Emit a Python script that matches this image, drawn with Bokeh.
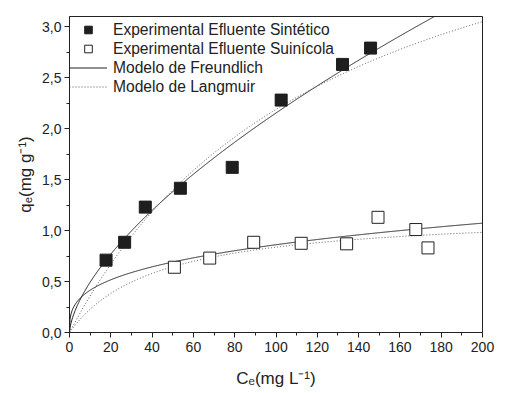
import numpy as np
from bokeh.plotting import figure
from bokeh.models import (Range1d, SingleIntervalTicker, CustomJSTickFormatter,
                          Legend, LegendItem)
from bokeh.embed import file_html
from bokeh.resources import INLINE

sint_ce = [17.7, 26.7, 36.7, 53.7, 78.8, 102.5, 132.2, 145.8]
sint_qe = [0.71, 0.885, 1.23, 1.415, 1.62, 2.28, 2.63, 2.79]
suin_ce = [50.8, 67.9, 89.2, 112.2, 134.2, 149.4, 167.7, 173.6]
suin_qe = [0.64, 0.73, 0.885, 0.875, 0.87, 1.13, 1.01, 0.83]

# Fitted isotherm parameters (estimated from curves)
sint_freund_kf, sint_freund_b = 0.113, 0.64
suin_freund_kf, suin_freund_b = 0.20, 0.317
sint_lang_qm, sint_lang_kl = 5.03, 0.0077
suin_lang_qm, suin_lang_kl = 1.19, 0.0237

ce_model = np.linspace(0, 200, 801)

def freundlich(c, kf, b):
    return kf * c ** b

def langmuir(c, qm, kl):
    return qm * kl * c / (1 + kl * c)

FONT = "Liberation Sans"

p = figure(width=500, height=390, output_backend="svg", toolbar_location=None,
           x_range=Range1d(0, 200), y_range=Range1d(0, 3.1),
           min_border_left=69, min_border_right=18, min_border_top=16,
           min_border_bottom=58)
p.background_fill_color = "white"
p.border_fill_color = "white"
p.outline_line_color = "#222222"
p.outline_line_width = 1
p.grid.visible = False

p.xaxis.ticker = SingleIntervalTicker(interval=20, num_minor_ticks=2)
p.yaxis.ticker = SingleIntervalTicker(interval=0.5, num_minor_ticks=2)
p.yaxis.formatter = CustomJSTickFormatter(code="return tick.toFixed(1).replace('.', ',');")
p.xaxis.formatter = CustomJSTickFormatter(code="return tick.toFixed(0);")

for ax in (p.xaxis, p.yaxis):
    ax.axis_line_color = "#222222"
    ax.major_tick_line_color = "#222222"
    ax.minor_tick_line_color = "#222222"
    ax.major_tick_in = 0
    ax.major_tick_out = 5
    ax.minor_tick_in = 0
    ax.minor_tick_out = 3
    ax.major_label_text_font = FONT
    ax.major_label_text_font_size = "14px"
    ax.major_label_text_color = "#222222"
    ax.axis_label_text_font = FONT
    ax.axis_label_text_font_size = "17px"
    ax.axis_label_text_font_style = "normal"
    ax.axis_label_text_color = "#222222"

p.xaxis.axis_label = "Cₑ(mg L⁻¹)"
p.yaxis.axis_label = "qₑ(mg g⁻¹)"
p.xaxis.major_label_standoff = 4
p.yaxis.major_label_standoff = 3
p.xaxis.axis_label_standoff = 14
p.yaxis.axis_label_standoff = 4

r_fr1 = p.line(ce_model, freundlich(ce_model, sint_freund_kf, sint_freund_b),
               line_color="#222222", line_width=1)
p.line(ce_model, freundlich(ce_model, suin_freund_kf, suin_freund_b),
       line_color="#222222", line_width=1)
r_la1 = p.line(ce_model, langmuir(ce_model, sint_lang_qm, sint_lang_kl),
               line_color="#555555", line_width=1, line_dash="1 2")
p.line(ce_model, langmuir(ce_model, suin_lang_qm, suin_lang_kl),
       line_color="#555555", line_width=1, line_dash="1 2")

r_s = p.scatter(sint_ce, sint_qe, marker="square", size=12,
                fill_color="#1e1e1e", line_color="#1e1e1e")
r_u = p.scatter(suin_ce, suin_qe, marker="square", size=12,
                fill_color="white", line_color="#222222", line_width=1)

legend = Legend(items=[
    LegendItem(label="Experimental Efluente Sintético", renderers=[r_s]),
    LegendItem(label="Experimental Efluente Suinícola", renderers=[r_u]),
    LegendItem(label="Modelo de Freundlich", renderers=[r_fr1]),
    LegendItem(label="Modelo de Langmuir", renderers=[r_la1]),
], location=(0, 236))
legend.border_line_alpha = 0
legend.background_fill_alpha = 0
legend.label_text_font = FONT
legend.label_text_font_size = "15.6px"
legend.label_text_color = "#222222"
legend.label_text_baseline = "middle"
legend.glyph_width = 38
legend.glyph_height = 19
legend.label_height = 19
legend.label_standoff = 6
legend.spacing = 0
legend.padding = 0
legend.margin = 0
p.add_layout(legend)

open("out.html", "w").write(file_html(p, INLINE))
